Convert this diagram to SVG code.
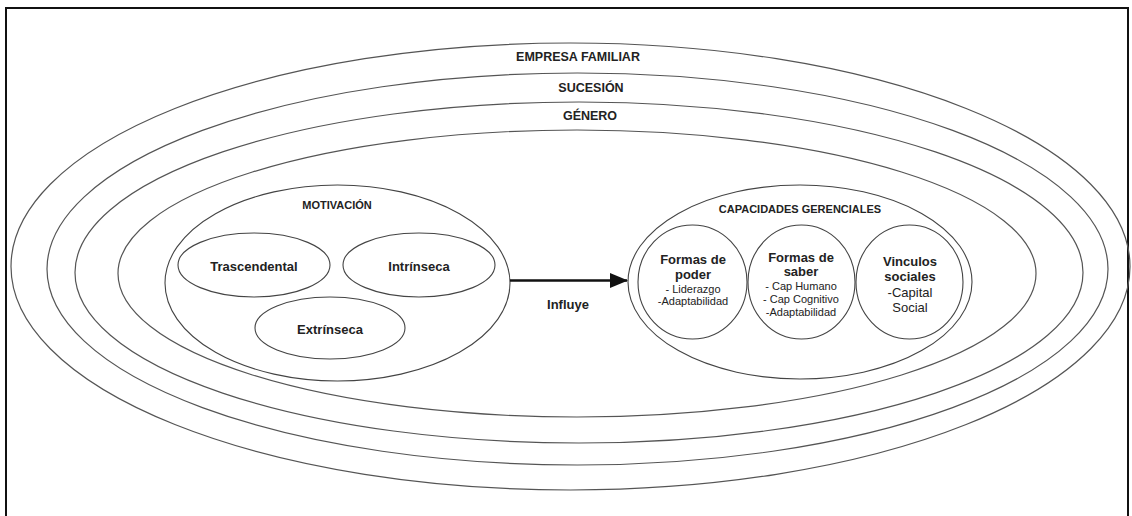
<svg xmlns="http://www.w3.org/2000/svg" width="1132" height="516" viewBox="0 0 1132 516">
<defs>
<style>
.ring{fill:none;stroke:#555;stroke-width:1.2}
.node{fill:none;stroke:#444;stroke-width:1.1}
.t{font-family:"Liberation Sans",Arial,sans-serif;fill:#222;text-anchor:middle}
.b{font-weight:bold}
</style>
<marker id="arr" markerWidth="7.2" markerHeight="6" refX="6.8" refY="3" orient="auto" markerUnits="strokeWidth">
<path d="M0,0 L7.2,3 L0,6 Z" fill="#111"/>
</marker>
</defs>
<rect width="1132" height="516" fill="#fff"/>
<rect x="6" y="8" width="1122" height="520" fill="none" stroke="#111" stroke-width="2"/>
<g id="empresa-familiar">
<ellipse class="ring" cx="570.5" cy="266.5" rx="559.5" ry="223.5"/>
<text class="t b" x="578" y="60.5" font-size="12.5">EMPRESA FAMILIAR</text>
</g>
<g id="sucesion">
<ellipse class="ring" cx="577.5" cy="269" rx="530.5" ry="196"/>
<text class="t b" x="591" y="91.5" font-size="12.5">SUCESIÓN</text>
</g>
<g id="genero">
<ellipse class="ring" cx="579" cy="272.5" rx="504" ry="170.5"/>
<text class="t b" x="590" y="119.5" font-size="12.5">GÉNERO</text>
</g>
<g id="ring4">
<ellipse class="ring" cx="577" cy="273.5" rx="459" ry="143.5"/>
</g>
<g id="motivacion">
<ellipse class="node" cx="337.5" cy="283" rx="172.5" ry="98"/>
<text class="t b" x="337" y="209" font-size="11">MOTIVACIÓN</text>
</g>
<g id="trascendental">
<ellipse class="node" cx="254" cy="265" rx="76" ry="32"/>
<text class="t b" x="254" y="270.5" font-size="13">Trascendental</text>
</g>
<g id="intrinseca">
<ellipse class="node" cx="419" cy="265" rx="76" ry="32"/>
<text class="t b" x="419" y="270.5" font-size="13">Intrínseca</text>
</g>
<g id="extrinseca">
<ellipse class="node" cx="330" cy="328" rx="75" ry="31"/>
<text class="t b" x="330" y="333.5" font-size="13">Extrínseca</text>
</g>
<g id="capacidades">
<ellipse class="node" cx="800" cy="282" rx="172" ry="97"/>
<text class="t b" x="800" y="213" font-size="11">CAPACIDADES GERENCIALES</text>
</g>
<g id="formas-poder">
<ellipse class="node" cx="692.5" cy="282" rx="54.5" ry="57"/>
<text class="t b" x="693" y="264" font-size="13">Formas de</text>
<text class="t b" x="693" y="279" font-size="13">poder</text>
<text class="t" x="693" y="292.5" font-size="11">- Liderazgo</text>
<text class="t" x="693" y="304.5" font-size="11">-Adaptabilidad</text>
</g>
<g id="formas-saber">
<ellipse class="node" cx="801.5" cy="282" rx="53.5" ry="57"/>
<text class="t b" x="801" y="262" font-size="13">Formas de</text>
<text class="t b" x="801" y="276" font-size="13">saber</text>
<text class="t" x="801" y="290" font-size="11">- Cap Humano</text>
<text class="t" x="801" y="302.5" font-size="11">- Cap Cognitivo</text>
<text class="t" x="801" y="315.5" font-size="11">-Adaptabilidad</text>
</g>
<g id="vinculos">
<ellipse class="node" cx="909.5" cy="282" rx="53.5" ry="57"/>
<text class="t b" x="910" y="266" font-size="13">Vinculos</text>
<text class="t b" x="910" y="281" font-size="13">sociales</text>
<text class="t" x="910" y="296.5" font-size="13">-Capital</text>
<text class="t" x="910" y="311.5" font-size="13">Social</text>
</g>
<g id="connectors">
<line x1="510" y1="280.5" x2="627" y2="280.5" stroke="#111" stroke-width="2.5" marker-end="url(#arr)"/>
<text class="t b" x="568" y="309" font-size="13">Influye</text>
</g>
</svg>
